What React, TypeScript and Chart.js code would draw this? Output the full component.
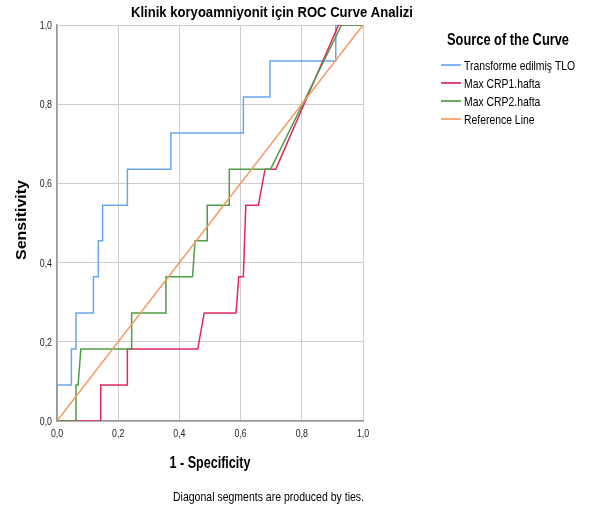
import React, { useEffect, useRef } from "react";
import { Chart, registerables } from "chart.js";

Chart.register(...registerables);

const chartTitle = "Klinik koryoamniyonit için ROC Curve Analizi";
const legendTitle = "Source of the Curve";
const xAxisTitle = "1 - Specificity";
const yAxisTitle = "Sensitivity";
const footnote = "Diagonal segments are produced by ties.";

const seriesLabels = ["Transforme edilmiş TLO", "Max CRP1.hafta", "Max CRP2.hafta", "Reference Line"];
const seriesColors = ["#6aa6ec", "#e3285c", "#4f9d47", "#f59a63"];

const tloX = [0, 0, 0.047, 0.047, 0.062, 0.062, 0.119, 0.119, 0.135, 0.135, 0.149, 0.149, 0.23, 0.23, 0.372, 0.372, 0.609, 0.609, 0.696, 0.696, 0.911, 0.911, 1];
const tloY = [0, 0.091, 0.091, 0.182, 0.182, 0.273, 0.273, 0.364, 0.364, 0.455, 0.455, 0.545, 0.545, 0.636, 0.636, 0.727, 0.727, 0.818, 0.818, 0.909, 0.909, 1, 1];

const crp1X = [0, 0.143, 0.143, 0.23, 0.23, 0.46, 0.481, 0.585, 0.594, 0.609, 0.617, 0.658, 0.68, 0.715, 0.92, 1];
const crp1Y = [0, 0, 0.091, 0.091, 0.182, 0.182, 0.273, 0.273, 0.364, 0.364, 0.545, 0.545, 0.636, 0.636, 1, 1];

const crp2X = [0, 0.062, 0.062, 0.069, 0.078, 0.244, 0.244, 0.356, 0.356, 0.443, 0.451, 0.491, 0.491, 0.563, 0.563, 0.698, 0.93, 1];
const crp2Y = [0, 0, 0.091, 0.091, 0.182, 0.182, 0.273, 0.273, 0.364, 0.364, 0.455, 0.455, 0.545, 0.545, 0.636, 0.636, 1, 1];

const refX = [0, 1];
const refY = [0, 1];

const axisTicks = [0, 0.2, 0.4, 0.6, 0.8, 1.0];

const FONT = '"Liberation Sans", Arial, sans-serif';

function toPoints(xs: number[], ys: number[]) {
  return xs.map((x, i) => ({ x, y: ys[i] }));
}

function fmt(v: number) {
  return Number(v).toFixed(1).replace(".", ",");
}

function fitText(
  ctx: CanvasRenderingContext2D,
  text: string,
  x: number,
  y: number,
  font: string,
  width: number,
  align: "left" | "center" | "right" = "center",
  rotate = 0
) {
  ctx.save();
  ctx.font = font;
  const w = ctx.measureText(text).width;
  const s = width / w;
  ctx.translate(x, y);
  if (rotate) ctx.rotate(rotate);
  ctx.scale(s, 1);
  ctx.textAlign = align;
  ctx.textBaseline = "middle";
  ctx.fillText(text, 0, 0);
  ctx.restore();
}

function narrowText(
  ctx: CanvasRenderingContext2D,
  text: string,
  x: number,
  y: number,
  font: string,
  scale: number,
  align: "left" | "center" | "right"
) {
  ctx.save();
  ctx.font = font;
  ctx.translate(x, y);
  ctx.scale(scale, 1);
  ctx.textAlign = align;
  ctx.textBaseline = "middle";
  ctx.fillText(text, 0, 0);
  ctx.restore();
}

const textPlugin = {
  id: "texts",
  afterDraw(chart: any) {
    const ctx = chart.ctx as CanvasRenderingContext2D;
    const area = chart.chartArea;
    const xs = chart.scales.x;
    const ys = chart.scales.y;
    ctx.save();
    ctx.fillStyle = "#000";

    fitText(ctx, chartTitle, 272, 13, `bold 15px ${FONT}`, 282);
    fitText(ctx, legendTitle, 508, 41, `bold 16px ${FONT}`, 122);
    fitText(ctx, xAxisTitle, 210, 464, `bold 16px ${FONT}`, 81);
    fitText(ctx, yAxisTitle, 22, 220, `bold 15px ${FONT}`, 80, "center", -Math.PI / 2);
    fitText(ctx, footnote, 268.5, 497, `13px ${FONT}`, 191);

    // tick labels from the library's scales
    ctx.fillStyle = "#222";
    xs.ticks.forEach((t: any) => {
      narrowText(ctx, fmt(t.value), xs.getPixelForValue(t.value), area.bottom + 13, `11px ${FONT}`, 0.8, "center");
    });
    ys.ticks.forEach((t: any) => {
      narrowText(ctx, fmt(t.value), area.left - 5, ys.getPixelForValue(t.value) + 1, `11px ${FONT}`, 0.8, "right");
    });

    // legend
    ctx.fillStyle = "#000";
    seriesLabels.forEach((lab, i) => {
      const y = 65 + i * 18;
      ctx.strokeStyle = seriesColors[i];
      ctx.lineWidth = 2;
      ctx.globalAlpha = 0.85;
      ctx.beginPath();
      ctx.moveTo(441, y);
      ctx.lineTo(461, y);
      ctx.stroke();
      ctx.globalAlpha = 1;
      narrowText(ctx, lab, 464, y + 1, `13px ${FONT}`, 0.8, "left");
    });
    ctx.restore();
  },
};

export default function App() {
  const ref = useRef<HTMLCanvasElement>(null);
  useEffect(() => {
    if (!ref.current) return;
    const data = [toPoints(tloX, tloY), toPoints(crp1X, crp1Y), toPoints(crp2X, crp2Y), toPoints(refX, refY)];
    const chart = new Chart(ref.current, {
      type: "scatter",
      data: {
        datasets: data.map((d, i) => ({
          label: seriesLabels[i],
          data: d,
          showLine: true,
          borderColor: seriesColors[i],
          backgroundColor: seriesColors[i],
          borderWidth: 1.5,
          pointRadius: 0,
          tension: 0,
          order: i === 3 ? 0 : 4 - i,
        })),
      },
      options: {
        responsive: false,
        animation: false,
        layout: { padding: { left: 57, top: 25, right: 226, bottom: 87 } },
        plugins: { legend: { display: false }, title: { display: false }, tooltip: { enabled: false } },
        scales: {
          x: {
            type: "linear",
            min: 0,
            max: 1,
            afterFit: (s: any) => { s.height = 0; },
            afterBuildTicks: (s: any) => { s.ticks = axisTicks.map((v) => ({ value: v })); },
            ticks: { display: false },
            grid: { color: "#cdcdcd", lineWidth: 1, drawTicks: false },
            border: { color: "#999", width: 1.5 },
          },
          y: {
            type: "linear",
            min: 0,
            max: 1,
            afterFit: (s: any) => { s.width = 0; },
            afterBuildTicks: (s: any) => { s.ticks = axisTicks.map((v) => ({ value: v })); },
            ticks: { display: false },
            grid: { color: "#cdcdcd", lineWidth: 1, drawTicks: false },
            border: { color: "#999", width: 1.5 },
          },
        },
      },
      plugins: [textPlugin],
    });
    return () => chart.destroy();
  }, []);
  return (
    <canvas
      ref={ref}
      width={589}
      height={508}
      style={{ position: "fixed", left: 0, top: 0, width: 589, height: 508, background: "#fff" }}
    />
  );
}
